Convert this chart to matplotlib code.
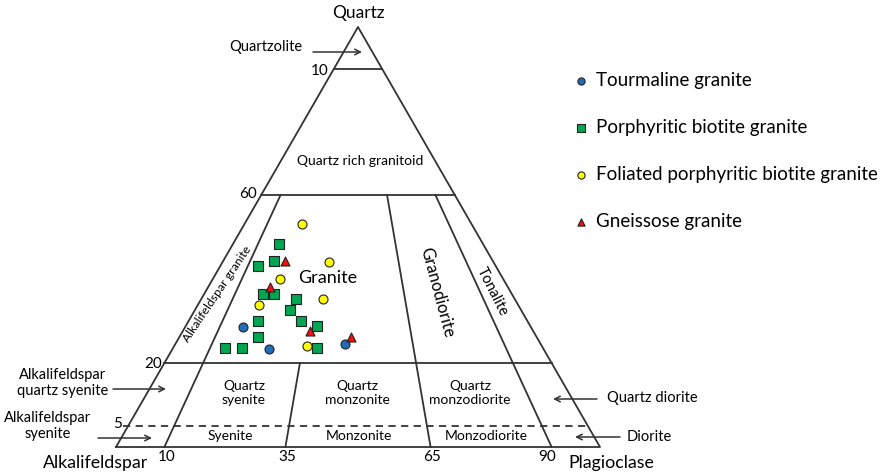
import numpy as np
import matplotlib
matplotlib.use("Agg")
import matplotlib.pyplot as plt

plt.rcParams['font.family'] = ['Lato', 'DejaVu Sans']

# modal compositions (Q, A, P in %)
tourmaline_q = [28.5, 23.3, 24.5]
tourmaline_a = [59.6, 56.7, 40.4]
tourmaline_p = [11.9, 20.0, 35.1]

porph_q = [48.3, 44.3, 43.0, 36.4, 36.4, 35.2, 32.6, 30.1, 30.1, 28.8, 26.3, 23.6, 23.6, 23.6]
porph_a = [42.1, 45.2, 49.2, 51.4, 49.1, 45.2, 47.8, 55.6, 46.8, 44.0, 57.5, 65.6, 62.2, 46.6]
porph_p = [9.6, 10.5, 7.8, 12.2, 14.5, 19.6, 19.6, 14.3, 23.1, 27.2, 16.2, 10.8, 14.2, 29.8]

foliated_q = [53.1, 44.0, 40.1, 35.2, 33.7, 24.1]
foliated_a = [35.1, 34.0, 46.1, 39.6, 53.7, 48.5]
foliated_p = [11.8, 22.0, 13.8, 25.2, 12.6, 27.4]

gneiss_q = [44.3, 38.0, 27.7, 26.3]
gneiss_a = [43.0, 49.2, 46.1, 38.5]
gneiss_p = [12.8, 12.8, 26.2, 35.4]

# field boundaries
q_levels = [90, 60, 20]
q_dashed = 5
p_ratios = [10, 35, 65, 90]
p_ratio_top = [60, 20, 60, 60]

H = np.sqrt(3) / 2


def tern(q, a, p):
    q, a, p = np.asarray(q, float), np.asarray(a, float), np.asarray(p, float)
    s = q + a + p
    q, p = q / s * 100, p / s * 100
    return p + q / 2, q * H


# pixel helper for placing labels (top-left pixel coords -> data)
SX = 484 / 100
SY = 420 / (100 * H)


def px(x, y):
    return (x - 116) / SX, (447 - y) / SY


fig = plt.figure(figsize=(8.82, 4.75), dpi=100)
ax = fig.add_axes([0, 0, 1, 1])
ax.set_xlim(-116 / SX, (882 - 116) / SX)
ax.set_ylim(-(475 - 447) / SY, 447 / SY)
ax.axis('off')

lc = '#333333'
lw = 1.3
ax.plot([0, 100, 50, 0], [0, 0, 100 * H, 0], color=lc, lw=lw)
for q in q_levels:
    ax.plot([q / 2, 100 - q / 2], [q * H, q * H], color=lc, lw=lw)
ax.plot([q_dashed / 2 - 1, 100 - q_dashed / 2], [q_dashed * H] * 2, color=lc, lw=lw, ls=(0, (4, 3)))
for r, qt in zip(p_ratios, p_ratio_top):
    qs = np.array([0, qt])
    ax.plot(r / 100 * (100 - qs) + qs / 2, qs * H, color=lc, lw=lw)

# samples
ms = 42
h1 = ax.scatter(*tern(tourmaline_q, tourmaline_a, tourmaline_p), s=ms, marker='o',
                color='#1f6cb8', edgecolor='#222222', lw=0.8, zorder=5, label='Tourmaline granite')
h2 = ax.scatter(*tern(porph_q, porph_a, porph_p), s=ms, marker='s',
                color='#00a651', edgecolor='#222222', lw=0.8, zorder=5, label='Porphyritic biotite granite')
h3 = ax.scatter(*tern(foliated_q, foliated_a, foliated_p), s=ms, marker='o',
                color='#ffff00', edgecolor='#222222', lw=0.8, zorder=5, label='Foliated porphyritic biotite granite')
h4 = ax.scatter(*tern(gneiss_q, gneiss_a, gneiss_p), s=ms, marker='^',
                color='#ee1111', edgecolor='#222222', lw=0.8, zorder=6, label='Gneissose granite')

ax.legend(handles=[h1, h2, h3, h4], loc='upper left', bbox_to_anchor=(573 / 882, 1 - 72 / 475),
          bbox_transform=fig.transFigure, frameon=False, fontsize=13.5, labelspacing=1.6,
          handlelength=0.8, handletextpad=0.45, markerscale=0.8, borderpad=0, borderaxespad=0)

# field names
fs = 10
ax.text(*px(360, 161), 'Quartz rich granitoid', fontsize=fs, ha='center', va='center')
ax.text(*px(328, 278), 'Granite', fontsize=13, ha='center', va='center')
ax.text(*px(217, 294), 'Alkalifeldspar granite', fontsize=8.8, ha='center', va='center', rotation=56)
ax.text(*px(437, 293), 'Granodiorite', fontsize=12, ha='center', va='center', rotation=-75)
ax.text(*px(492, 292), 'Tonalite', fontsize=10.5, ha='center', va='center', rotation=-63)
ax.text(*px(244, 393), 'Quartz\nsyenite', fontsize=fs, ha='center', va='center', linespacing=1.15)
ax.text(*px(357, 393), 'Quartz\nmonzonite', fontsize=fs, ha='center', va='center', linespacing=1.15)
ax.text(*px(470, 393), 'Quartz\nmonzodiorite', fontsize=fs, ha='center', va='center', linespacing=1.15)
ax.text(*px(230, 436), 'Syenite', fontsize=fs, ha='center', va='center')
ax.text(*px(359, 436), 'Monzonite', fontsize=fs, ha='center', va='center')
ax.text(*px(486, 436), 'Monzodiorite', fontsize=fs, ha='center', va='center')

# apex and tick labels
ax.text(*px(358, 13), 'Quartz', fontsize=12.5, ha='center', va='center')
ax.text(*px(96, 463), 'Alkalifeldspar', fontsize=12.8, ha='center', va='center')
ax.text(*px(611, 463), 'Plagioclase', fontsize=12.8, ha='center', va='center')
for lab, x, y in [('10', 329, 71), ('60', 257, 194), ('20', 162, 364), ('5', 122, 424)]:
    ax.text(*px(x, y), lab, fontsize=11, ha='right', va='center')
for lab, x in zip(['10', '35', '65', '90'], [167, 287, 432, 547]):
    ax.text(*px(x, 457), lab, fontsize=11, ha='center', va='center')

# side annotations with arrows
arw = dict(arrowstyle='->', color=lc, lw=1.1, shrinkA=0, shrinkB=0)
fsa = 10.5
ax.text(*px(266, 47), 'Quartzolite', fontsize=fsa, ha='center', va='center')
ax.annotate('', xy=px(362, 52), xytext=px(313, 52), arrowprops=arw)
ax.text(*px(63, 383), 'Alkalifeldspar\nquartz syenite', fontsize=fsa, ha='center', va='center', linespacing=1.15)
ax.annotate('', xy=px(166, 389), xytext=px(113, 389), arrowprops=arw)
ax.text(*px(48, 426), 'Alkalifeldspar\nsyenite', fontsize=fsa, ha='center', va='center', linespacing=1.15)
ax.annotate('', xy=px(152, 438), xytext=px(98, 438), arrowprops=arw)
ax.text(*px(607, 398), 'Quartz diorite', fontsize=fsa, ha='left', va='center')
ax.annotate('', xy=px(553, 399), xytext=px(597, 399), arrowprops=arw)
ax.text(*px(627, 437), 'Diorite', fontsize=fsa, ha='left', va='center')
ax.annotate('', xy=px(575, 437), xytext=px(620, 437), arrowprops=arw)

fig.savefig('out.png', dpi=100, facecolor='white')
